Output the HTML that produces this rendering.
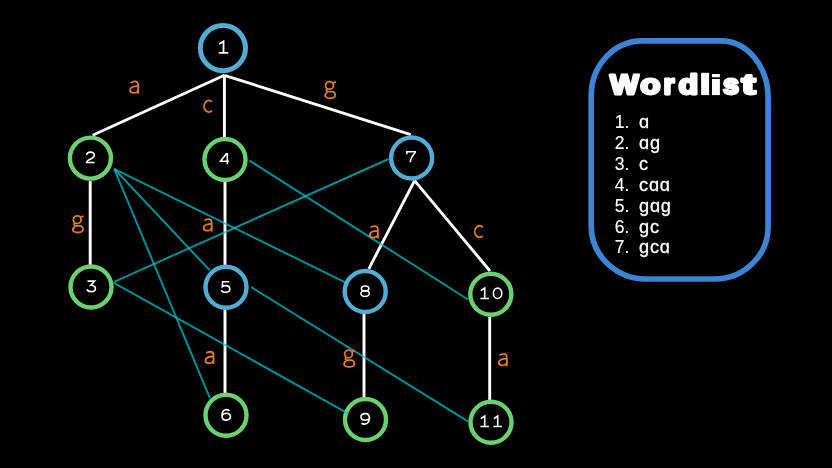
<!DOCTYPE html>
<html><head><meta charset="utf-8">
<style>
html,body{margin:0;padding:0;background:#000;width:832px;height:468px;overflow:hidden}
svg{display:block;will-change:transform}
.w{font-family:"Liberation Sans",sans-serif;font-size:17.5px;fill:#fff;stroke:#fff;stroke-width:0.12px}
.wl{font-size:18.2px;stroke-width:0.3px;letter-spacing:0.8px}
</style></head>
<body>
<svg width="832" height="468" viewBox="0 0 832 468">
<defs>
<g id="d1"><path d="M1.3 3.3 L5.1 0.8 V11.2 M0.8 11.2 H9.3"/></g>
<g id="d0"><ellipse cx="5" cy="6" rx="4.2" ry="5.2"/></g>
<g id="d2"><path d="M1.1 3.6 C1.3 1.9 2.9 0.8 5 0.8 C7.3 0.8 8.8 2 8.8 3.8 C8.8 5.4 7.7 6.4 5.8 7.4 C3.4 8.6 1.1 9.6 1.1 11.2 H9.2"/></g>
<g id="d3"><path d="M1.3 0.8 H8.5 L4.6 5 C7.4 4.8 9.2 6.1 9.2 8.2 C9.2 10.2 7.4 11.3 5 11.3 C2.9 11.3 1.2 10.5 0.8 9"/></g>
<g id="d4"><path d="M9.3 8.2 H0.8 L6.6 0.8 H7.6 V11.2"/></g>
<g id="d5"><path d="M8.7 0.8 H2 L1.7 5.6 C2.5 4.9 3.7 4.6 5 4.6 C7.5 4.6 9.2 5.9 9.2 8 C9.2 10.1 7.4 11.3 5 11.3 C2.8 11.3 1.2 10.6 0.8 9.2"/></g>
<g id="d6"><path d="M8.3 2.2 C7.6 1.3 6.4 0.8 5.2 0.8 C2.4 0.8 0.8 3.2 0.8 6.6 C0.8 9.6 2.5 11.3 5 11.3 C7.4 11.3 9.2 9.9 9.2 7.8 C9.2 5.8 7.5 4.5 5.2 4.5 C3.2 4.5 1.5 5.4 0.9 6.8"/></g>
<g id="d7"><path d="M0.9 3.2 V0.8 H9.2 V1.7 C6.5 4.5 4.6 7.8 4.4 11.3"/></g>
<g id="d8"><ellipse cx="5" cy="3.4" rx="3.7" ry="2.6"/><ellipse cx="5" cy="8.3" rx="4.2" ry="3"/></g>
<g id="d9"><path d="M9.1 5.6 C8.4 6.8 6.9 7.4 5 7.4 C2.5 7.4 0.8 6.1 0.8 4.1 C0.8 2.1 2.6 0.8 5 0.8 C7.6 0.8 9.2 2.6 9.2 5.2 C9.2 8.8 7 11.3 4.2 11.3 C3 11.3 2 11 1.3 10.3"/></g>

<g id="ga"><path d="M1.6 -10.9 C3 -12.2 4.5 -12.35 5.6 -12.35 C7.8 -12.35 8.9 -11 8.9 -8.8 V0"/><path d="M8.9 -7.6 C4.5 -7.6 0.85 -6.6 0.85 -3.7 C0.85 -1.9 2.3 -0.85 4.4 -0.85 C6.7 -0.85 8.9 -2.1 8.9 -4.3"/></g>
<g id="gc"><path d="M8.7 -10.9 A4.7 5.8 0 1 0 8.7 -2.4"/></g>
<g id="gg"><ellipse cx="5.2" cy="-6.6" rx="3.9" ry="3.8"/><path d="M8.3 -9.4 L11.6 -9.9"/><path d="M3.1 -3.4 C1.5 -2.6 1.7 -0.4 3.8 -0.4 L7.5 -0.4 C9.8 -0.4 10.9 1.2 10.9 3.3 C10.9 5.3 8.8 6.2 5.8 6.2 C2.6 6.2 0.85 5.2 0.85 3.3 C0.85 1.9 1.9 0.9 3.2 0.5"/></g>
</defs>
<rect width="832" height="468" fill="#000"/>
<!-- white tree edges -->
<g stroke="#fff" stroke-width="2.9" fill="none">
<line x1="224.4" y1="75.3" x2="92.6" y2="135.3"/>
<line x1="224.4" y1="75.3" x2="224.4" y2="137"/>
<line x1="224.4" y1="75.3" x2="410.8" y2="134.6"/>
<line x1="90.2" y1="181" x2="90.2" y2="265"/>
<line x1="225" y1="182" x2="225" y2="265"/>
<line x1="414.6" y1="180.6" x2="368.8" y2="268.8"/>
<line x1="414.6" y1="180.6" x2="490" y2="271"/>
<line x1="225" y1="309" x2="225" y2="393"/>
<line x1="364" y1="314" x2="364" y2="397"/>
<line x1="489.7" y1="317" x2="489.7" y2="400"/>
</g>
<!-- nodes -->
<g fill="none" stroke-width="4.4">
<circle cx="222.9" cy="48.1" r="22.6" stroke="#52acd4" stroke-width="5"/>
<circle cx="90.4" cy="158.1" r="20.5" stroke="#6ad070"/>
<circle cx="225" cy="159.5" r="20.5" stroke="#6ad070"/>
<circle cx="411.6" cy="158" r="20.5" stroke="#52acd4"/>
<circle cx="91" cy="287" r="20.5" stroke="#6ad070"/>
<circle cx="226" cy="287.3" r="20.5" stroke="#52acd4"/>
<circle cx="365.2" cy="291.5" r="20.5" stroke="#52acd4"/>
<circle cx="490.8" cy="294.2" r="20.5" stroke="#6ad070"/>
<circle cx="226" cy="415.3" r="20.5" stroke="#6ad070"/>
<circle cx="365.5" cy="419.5" r="20.5" stroke="#6ad070"/>
<circle cx="491" cy="422.3" r="20.5" stroke="#6ad070"/>
</g>
<!-- teal failure links -->
<g stroke="#00c4cc" stroke-opacity="0.72" stroke-width="2" fill="none">
<line x1="114.2" y1="168.8" x2="344.8" y2="282.2"/>
<line x1="114.2" y1="168.8" x2="209.7" y2="270.3"/>
<line x1="114.2" y1="168.8" x2="210" y2="398.4"/>
<line x1="249.2" y1="160.4" x2="468" y2="299.5"/>
<line x1="388.6" y1="159" x2="114" y2="281.8"/>
<line x1="114" y1="282.8" x2="348.3" y2="413.7"/>
<line x1="251.3" y1="287.2" x2="468" y2="421.3"/>
</g>
<!-- node numbers -->
<g fill="none" stroke="#fff" stroke-width="1.6">
<use href="#d1" transform="translate(217.8 40.4) scale(1.12)"/>
<use href="#d2" transform="translate(85.5 151.3)"/>
<use href="#d4" transform="translate(219.7 153.0)"/>
<use href="#d7" transform="translate(405.9 151.0)"/>
<use href="#d3" transform="translate(86.2 280.3)"/>
<use href="#d5" transform="translate(220.6 281.0)"/>
<use href="#d8" transform="translate(360.1 285.2)"/>
<use href="#d1" transform="translate(479.6 287.3)"/>
<use href="#d0" transform="translate(492.6 287.3)"/>
<use href="#d6" transform="translate(221.2 408.8)"/>
<use href="#d9" transform="translate(360.2 412.8)"/>
<use href="#d1" transform="translate(479.6 415.3)"/>
<use href="#d1" transform="translate(492.6 415.3)"/>
</g>
<!-- edge labels -->
<g fill="none" stroke="#e07b30" stroke-width="1.8">
<use href="#ga" transform="translate(129.2 93.7)"/>
<use href="#gc" transform="translate(203.3 112.9)"/>
<use href="#gg" transform="translate(324.3 92.0)"/>
<use href="#gg" transform="translate(72.0 226.3)"/>
<use href="#ga" transform="translate(202.8 231.5)"/>
<use href="#ga" transform="translate(369.0 238.4)"/>
<use href="#gc" transform="translate(474.0 238.2)"/>
<use href="#ga" transform="translate(204.6 364.1)"/>
<use href="#gg" transform="translate(343.3 360.6)"/>
<use href="#ga" transform="translate(497.9 366.2)"/>
</g>
<!-- wordlist box -->
<path d="M642.3 40.8 H721.1 A47 57 0 0 1 768.1 97.8 V227 A54 52 0 0 1 714.1 279 H646.3 A55 53 0 0 1 591.2 226 V95.8 A51 55 0 0 1 642.3 40.8 Z" fill="none" stroke="#3d84d4" stroke-width="5.7"/>
<g fill="#fff">
<rect x="701.1" y="72.8" width="8" height="22.3" stroke="none"/>
<rect x="712" y="74" width="7.9" height="3.3" stroke="none"/><rect x="712" y="79" width="7.9" height="16.1" stroke="none"/>
</g>
<g font-family="Liberation Sans" font-weight="bold" font-size="26.5" fill="#fff" stroke="#fff" stroke-width="2.6" stroke-linejoin="round" transform="matrix(1 0 0 1.06 0 -5.9)">
<text transform="translate(610.10 0) scale(1.148 1)" y="94.3">W</text>
<text transform="translate(640.23 0) scale(1.250 1)" y="94.3">o</text>
<text transform="translate(663.48 0) scale(1.061 1)" y="94.3">r</text>
<text transform="translate(678.44 0) scale(1.214 1)" y="94.3">d</text>
<text transform="translate(723.06 0) scale(1.091 1)" y="94.3">s</text>
<text transform="translate(741.70 0) scale(1.567 1)" y="94.3">t</text>
</g>
<g class="w">
<text x="629.4" y="128.2" text-anchor="end">1.</text><text class="wl" x="639" y="128.2">ɑ</text>
<text x="629.4" y="149.1" text-anchor="end">2.</text><text class="wl" x="639" y="149.1">ɑɡ</text>
<text x="629.4" y="170" text-anchor="end">3.</text><text class="wl" x="639" y="170">c</text>
<text x="629.4" y="190.8" text-anchor="end">4.</text><text class="wl" x="639" y="190.8">cɑɑ</text>
<text x="629.4" y="211.9" text-anchor="end">5.</text><text class="wl" x="639" y="211.9">ɡɑɡ</text>
<text x="629.4" y="233" text-anchor="end">6.</text><text class="wl" x="639" y="233">ɡc</text>
<text x="629.4" y="253.1" text-anchor="end">7.</text><text class="wl" x="639" y="253.1">ɡcɑ</text>
</g>
</svg>
</body></html>
